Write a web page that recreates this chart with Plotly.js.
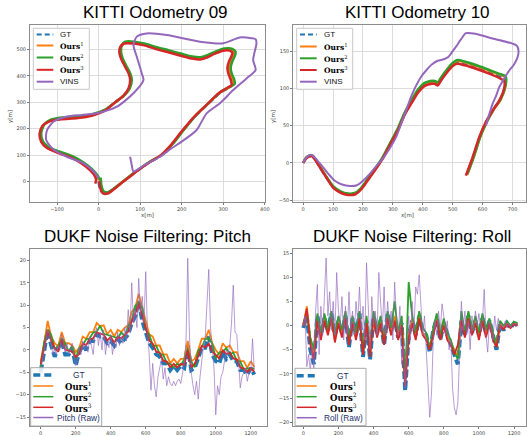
<!DOCTYPE html>
<html><head><meta charset="utf-8">
<script src="https://cdn.plot.ly/plotly-3.0.1.min.js"></script>
<style>html,body{margin:0;padding:0;background:#fff}#chart{width:527px;height:436px}</style>
</head><body><div id="chart"></div>
<script>
// ---------- KITTI 09 trajectories ----------
const gt09x=[0,2,6,14,22,50,85,121,152,177,202,232,262,292,313,323,321,316,314,318,324,326,319,302,281,262,245,225,200,170,140,110,85,63,53,51,55,63,74,78,73,61,41,15,-15,-50,-89,-117,-134,-141,-137,-124,-99,-64,-39,-18,-5,-1];
const gt09y=[0,-20,-36,-44,-43,-11,31,71,100,141,191,246,291,335,354,367,386,410,431,455,475,488,497,498,486,472,465,468,478,491,503,518,525,525,510,490,465,440,410,385,352,326,301,270,252,242,238,230,212,181,151,129,112,92,70,44,20,3];
const o1_09x=[4,6,11,22,51,85,121,152,177,202,232,262,292,313,325,323,317,315,319,325,327,320,302,281,262,245,225,200,170,140,110,86,63,54,52,56,64,74,78,74,61,41,15,-15,-50,-89,-116,-133,-140,-136,-123,-98,-63,-38,-17,-4,1];
const o1_09y=[12,-18,-38,-42,-10,32,72,101,141,191,248,293,337,355,368,386,410,431,455,475,489,499,500,489,475,467,470,480,493,505,519,526,526,512,491,466,440,410,385,352,326,301,270,253,243,239,231,213,181,151,130,113,93,70,44,20,6];
const o2_09x=[5,7,12,22,52,86,122,153,179,204,234,264,294,316,328,326,320,318,322,328,330,322,303,282,262,245,225,200,170,140,110,86,64,56,54,58,66,76,80,75,62,42,16,-15,-50,-88,-115,-131,-138,-134,-121,-97,-62,-36,-15,-2,3];
const o2_09y=[15,-15,-36,-40,-8,34,74,102,143,193,250,296,340,358,370,388,410,432,455,475,490,502,503,492,478,470,473,483,496,508,522,529,529,515,492,466,440,410,385,352,326,302,272,255,246,242,234,215,182,152,132,115,95,72,46,22,8];
const o3_09x=[2,4,10,22,50,84,120,150,175,200,230,260,290,310,320,318,312,310,314,320,322,315,300,280,262,245,225,200,170,140,110,85,62,52,50,54,62,72,76,72,60,40,15,-15,-50,-90,-118,-135,-142,-138,-125,-100,-65,-40,-20,-8,-6,-8];
const o3_09y=[2,-25,-44,-45,-12,30,70,100,140,190,245,290,335,355,365,385,410,430,455,475,487,495,495,484,470,462,465,475,488,500,515,522,522,508,490,465,440,410,385,352,325,300,268,250,240,236,228,210,180,150,128,110,90,68,42,18,5,-8];
const vins09x=[76,80,84,110,148,175,200,236,260,292,324,356,378,372,380,378,368,340,300,244,164,116,92,84,92,104,108,84,44,-4,-40,-76,-108,-124,-126,-108,-76,-36,-12,0];
const vins09y=[94,62,38,62,94,125,151,195,258,296,346,390,422,460,523,538,542,545,523,529,554,560,548,516,472,409,384,334,283,258,252,246,227,195,157,120,94,69,38,13];

// ---------- KITTI 10 trajectories ----------
const gt10x=[0,10,22,30,42,56,75,100,125,150,175,195,215,240,265,290,315,340,365,385,405,425,440,450,460,480,500,515,540,580,620,660,674,674,658,634,612,590,568,546];
const gt10y=[0,6,9,9,3,-6,-18,-32,-39,-42,-41,-34,-23,-9,6,25,43,66,84,97,105,108,108,106,112,123,132,135,133,128,122,116,113,102,85,71,55,35,8,-16];
const o1_10x=[0,10,22,30,42,56,75,100,125,150,175,195,215,240,265,290,315,340,365,385,405,425,440,450,460,480,500,515,540,580,620,660,676,676,660,636,614,592,570,548];
const o1_10y=[0,7,10,10,4,-5,-17,-32,-39,-42,-41,-34,-23,-9,6,25,44,67,85,98,106,109,109,107,113,124,133,137,135,130,124,118,115,103,85,71,55,35,8,-16];
const o2_10x=[0,10,22,30,42,56,75,100,125,150,175,195,215,240,265,290,315,340,365,385,405,425,440,450,460,480,500,515,540,580,620,660,677,677,661,637,615,593,571,549];
const o2_10y=[0,7,10,10,4,-5,-17,-31,-38,-41,-40,-33,-22,-8,7,26,45,68,86,99,107,110,110,108,114,125,134,138,136,131,125,119,116,104,86,72,56,36,9,-15];
const o3_10x=[0,10,22,30,42,56,75,100,125,150,175,195,215,240,265,290,315,340,365,385,405,425,440,450,460,480,500,515,540,580,620,660,672,672,656,633,611,589,567,544];
const o3_10y=[0,6,9,9,3,-6,-18,-33,-40,-43,-42,-35,-24,-10,5,24,42,65,82,95,103,106,106,104,110,121,130,133,131,126,120,113,110,100,84,70,55,35,8,-17];
const vins10x=[0,10,25,35,50,67,85,106,130,156,180,200,222,245,267,290,311,330,344,360,378,395,411,430,450,470,485,500,511,528,544,578,633,700,715,720,717,705,689,670,656,645,633,622,611];
const vins10y=[0,7,11,9,2,-6,-15,-24,-29,-31,-30,-24,-15,-4,6,20,35,55,70,88,104,116,124,132,137,139,142,150,156,166,174,173,167,160,157,150,142,132,124,112,102,90,79,65,50];

// ---------- DUKF noise filtering ----------
const t20=[0,20,40,60,80,100,120,140,160,180,200,220,240,260,280,300,320,340,360,380,400,420,440,460,480,500,520,540,560,580,600,620,640,660,680,700,720,740,760,780,800,820,840,860,880,900,920,940,960,980,1000,1020,1040,1060,1080,1100,1120,1140,1160,1180,1200,1220];
const t10=[0,10,20,30,40,50,60,70,80,90,100,110,120,130,140,150,160,170,180,190,200,210,220,230,240,250,260,270,280,290,300,310,320,330,340,350,360,370,380,390,400,410,420,430,440,450,460,470,480,490,500,510,520,530,540,550,560,570,580,590,600,610,620,630,640,650,660,670,680,690,700,710,720,730,740,750,760,770,780,790,800,810,820,830,840,850,860,870,880,890,900,910,920,930,940,950,960,970,980,990,1000,1010,1020,1030,1040,1050,1060,1070,1080,1090,1100,1110,1120,1130,1140,1150,1160,1170,1180,1190,1200,1210,1220];

const pitchGT=[-5,0.5,4.5,1,-1.5,0.5,2,-1,-1,0.5,-3.5,-0.5,1,0,2,2,3.5,3,3,1.5,2,1,2.5,1.5,2.5,3.5,6,7.5,11,6.5,4,1.5,0.5,-1,-1.5,-3,-3,-4.5,-3.5,-4.5,-3.5,-4,1,-4.5,-4,-2,0.5,0.5,3,-1,-2.5,-3,-0.5,-2,-1,-2.5,-2.5,-4.5,-4.5,-5.5,-4,-5.5];
const pitchOurs1=[-2.5,1.5,6.5,3,1.5,0.8,4,1.5,1.5,1,-0.5,0.5,3,2.5,4,4,6,5.3,5.5,3.5,4.5,3,4.5,4,5,5.5,8.5,9.5,12.5,9.5,6.5,3.5,3,1,1,-1,-1,-3,-2,-3,-2,-2,2,-2.5,-2,0,2.5,2.5,4.5,1.5,0,-1,1.5,0.5,1,-0.5,-0.5,-2.5,-2.5,-4,-2.5,-3.8];
const pitchOurs2=[-3.8,1.8,4.6,3.4,0.2,0.9,2.6,1.4,-0.4,0.9,-1.9,0.4,1.1,2.4,2.6,3.9,4.1,5.4,3.6,3.4,3.1,2.9,2.6,3.9,3.1,5.4,6.6,9.9,10.6,9.4,4.6,3.4,1.1,0.9,-0.9,-1.1,-2.9,-3.1,-3.9,-3.1,-3.4,-2.1,0.1,-2.6,-3.9,-0.1,0.6,2.4,2.6,1.4,-1.9,-0.6,-0.4,0.4,-0.9,-0.6,-2.4,-2.6,-4.4,-4.1,-4.4,-4.1];
const pitchOurs3=[-3.2,0.6,4.4,2.1,0.4,-0.4,2.4,0.1,-0.1,-0.4,-1.6,-0.9,1.4,1.1,2.4,2.6,3.9,3.6,3.4,2.1,2.9,1.6,2.9,2.6,3.4,4.1,6.4,8.1,10.4,7.6,4.9,2.1,1.4,-0.4,-0.6,-2.4,-2.6,-3.9,-3.1,-3.9,-3.1,-3.4,-0.1,-3.9,-3.1,-1.4,0.9,0.6,1.4,-0.4,-1.1,-1.9,-0.1,-0.9,-0.6,-1.9,-2.1,-3.9,-4.1,-4.9,-4.1,-4.9];
const pitchRaw=[-4.5,-2,0.5,2,4.5,3.5,1,-1,0.5,-1,1,0,3.5,1,-0.5,1.5,-1,0,1.5,-1.5,-3.5,-2,0.5,-1,2,0,1.5,-0.5,3,1,-1,3.5,5,1,4,0,4.5,-1,2,0.5,3.5,-1,2,0.5,4,1,3,1.5,5,2,9,4,15,6,9,5,16,8,12,6,17.5,4,-1,-9,-3,-8,-10.5,-6,-4,-2,-6.5,-4,-8,-6,-7.5,-8,-7,-8,-7,-6.5,-7.5,-5,-3,2,20.5,3,-5,-8,-10,-7,-11,-6,-2,1,3,10,18,5,0,-4,-14.5,-8,-10,-6,-5,-2,0,-1,1,6,14.5,4,3.5,-2,-8.5,-6,-5,-4,-7,-5,-5,2.5,-4.5];

const rollGT=[-0.5,2,-5,-8,2,-2,1.5,-1,2.5,-2,1,-1.5,2,-4.5,1.5,-2,2.5,-6.5,1,-7,2,-1.5,1,-4,2.5,-1,1.5,-2.5,0.5,-13.5,-2,1,-2,2,-1,-2,-5.5,-1,1.5,-3,0.5,-2,-4,-6,-8,1,-2,2,-1.5,1,-2,1.5,-1.5,1,-2.5,-5,0.5,-1,0.5,-0.5,0.5,0];
const rollOurs1=[0,4,-3,-6,1.5,-2.5,2,-1.5,2,-3,1.5,-2,2.5,-3.5,1,-2.5,2,-5,1.5,-5.5,2.5,-2,1.5,-3,2,-1.5,2,-2,1,-11,-2,1.5,-2.5,2.5,-1.5,-2.5,-4.5,-1.5,2,-2.5,1,-2.5,-3.5,-5,-6.5,1.5,-2,2.5,-1.5,1.5,-2.5,2,-2,1,-2,-4,0.5,-0.5,0.5,-0.5,0.5,0.3];
const rollOurs2=[0.5,2.5,-2.5,-5,2.5,-1.5,2.5,-1,3,-2,2,-1,3,-3,2,-1.5,3,-5.5,2,-6,3,-1,2,-3.5,3,-0.5,5,-1.5,2,-12,9,2,-1.5,3,-0.5,-1.5,-5,-0.5,2.5,-2,1.5,-1.5,-3,-5.5,-7,3,-1.5,3,-1,2,-1.5,2.5,-1,1.5,-1.5,-4.5,1,0,0.8,0,0.8,0.5];
const rollOurs3=[0,3.5,-4,-7,1,-3,1,-2,1.5,-3.5,0.5,-2.5,1.5,-4,0.5,-3,1.5,-6,0.5,-6.5,1.5,-2.5,0.5,-4,1.5,-2,1,-3,0,-12.5,-2.5,0.5,-3,1.5,-2,-3,-5,-2,1,-3,0,-3,-4,-6,-4,1,-2.5,1.5,-2,0.5,-3,1,-2.5,0.5,-3,-4.5,0,-0.8,0.2,-0.5,0.3,0];
const rollRaw=[0,2,-8.5,-6,-9.5,-4,-9,3,8.5,-6,4,-2,6,14,2,7,-1,5,-2,11,3,0,6,-3,4,-2,7,-1,3,-2,5,1,8,-1,4,-3,13,2,-5,6,0,3,-2,11,4,-1,8,-2,5,0,3,-3,9,2,-2,4,-8,-4,-13,-5,2,-3,5,-1,8,6.5,10.5,4,-2,2,-4,-12,-19,-14,-3,1,-2,3,-1,4.5,2,-2,1,-5,-3,-13,-17,-18.5,-16,-6,5,-1,3,-2,1,-5,2,-1,3,0,2.5,-1,1,7.5,-2,-5.5,1,-1,-3,2,-1,1.5,-1,0.5,-0.5,1,-0.5,0.5,-0.5,0.5,0,0.5,0];

// ---------- tick values ----------
const xt09=[-100,0,100,200,300,400], yt09=[0,100,200,300,400,500];
const xt10=[0,100,200,300,400,500,600,700], yt10=[-50,0,50,100,150];
const xtT=[0,200,400,600,800,1000,1200];
const ytPitch=[-15,-10,-5,0,5,10,15,20], ytRoll=[-20,-15,-10,-5,0,5,10,15];

// ---------- labels ----------
const titles=['KITTI Odometry 09','KITTI Odometry 10','DUKF Noise Filtering: Pitch','DUKF Noise Filtering: Roll'];
const trajNames=['GT','Ours1','Ours2','Ours3','VINS'];

const W=527,H=436;
const px=x=>x/W, py=y=>1-y/H;
const C={gt:'#1f77b4',o1:'#ff7f0e',o2:'#2ca02c',o3:'#d62728',v:'#9467bd'};

function tr(x,y,xa,ya,color,width,dash,opacity,shape){
  return {type:'scatter',mode:'lines',x:x,y:y,xaxis:xa,yaxis:ya,
    line:{color:color,width:width,dash:dash||'solid',shape:shape||'linear',smoothing:0.7},
    opacity:opacity==null?1:opacity,showlegend:false,hoverinfo:'skip'};
}
const data=[
  tr(gt09x,gt09y,'x','y',C.gt,2.5,'6px,3px',1,'spline'),
  tr(o1_09x,o1_09y,'x','y',C.o1,2.5,null,1,'spline'),
  tr(o2_09x,o2_09y,'x','y',C.o2,2.5,null,1,'spline'),
  tr(o3_09x,o3_09y,'x','y',C.o3,2.5,null,1,'spline'),
  tr(vins09x,vins09y,'x','y',C.v,2,null,1,'spline'),
  tr(gt10x,gt10y,'x2','y2',C.gt,2.5,'6px,3px',1,'spline'),
  tr(o1_10x,o1_10y,'x2','y2',C.o1,2.5,null,1,'spline'),
  tr(o2_10x,o2_10y,'x2','y2',C.o2,2.5,null,1,'spline'),
  tr(o3_10x,o3_10y,'x2','y2',C.o3,2.5,null,1,'spline'),
  tr(vins10x,vins10y,'x2','y2',C.v,2,null,1,'spline'),
  tr(t20,pitchGT,'x3','y3',C.gt,4,'8px,3px'),
  tr(t20,pitchOurs1,'x3','y3',C.o1,1.8),
  tr(t20,pitchOurs2,'x3','y3',C.o2,1.8),
  tr(t20,pitchOurs3,'x3','y3',C.o3,1.8),
  tr(t10,pitchRaw,'x3','y3',C.v,1,null,0.65),
  tr(t20,rollGT,'x4','y4',C.gt,4,'8px,3px'),
  tr(t20,rollOurs1,'x4','y4',C.o1,1.8),
  tr(t20,rollOurs2,'x4','y4',C.o2,1.8),
  tr(t20,rollOurs3,'x4','y4',C.o3,1.8),
  tr(t10,rollRaw,'x4','y4',C.v,1,null,0.65)
];

const common={showline:true,mirror:true,linecolor:'#8c8c8c',linewidth:1,ticks:'outside',ticklen:2,tickwidth:1,
  tickcolor:'#777',tickfont:{family:'DejaVu Sans',size:5,color:'#444'},zeroline:false,fixedrange:true,tickmode:'array'};
const grid={showgrid:true,gridcolor:'#dcdcdc',gridwidth:1};
const nogrid={showgrid:false};

const shapes=[], annotations=[];
function txt(x,y,text,size,family,opts){
  annotations.push(Object.assign({xref:'paper',yref:'paper',x:px(x),y:py(y),text:text,showarrow:false,
    xanchor:'center',yanchor:'middle',font:{size:size,family:family,color:'#000'}},opts||{}));
}
// titles
txt(155,12.5,titles[0],17,'Liberation Sans');
txt(417,12.5,titles[1],17,'Liberation Sans');
txt(147,236.7,titles[2],17,'Liberation Sans');
txt(412,236.7,titles[3],17,'Liberation Sans');
// axis labels
const axf={size:5.5,family:'DejaVu Sans',color:'#444'};
txt(147,214.5,'x[m]',5.5,'DejaVu Sans',{font:axf});
txt(10,117,'y[m]',5.5,'DejaVu Sans',{textangle:-90,font:axf});
txt(407,214.5,'x[m]',5.5,'DejaVu Sans',{font:axf});
txt(273,117,'y[m]',5.5,'DejaVu Sans',{textangle:-90,font:axf});

function legend(box,rows,lx0,lx1,tx,anchor,items,sansSize,serifSize,sansColor,borderColor){
  shapes.push({type:'rect',xref:'paper',yref:'paper',x0:px(box[0]),x1:px(box[1]),y0:py(box[3]),y1:py(box[2]),
    fillcolor:'rgba(255,255,255,0.85)',line:{color:borderColor,width:1},layer:'above'});
  items.forEach((it,i)=>{
    shapes.push({type:'line',xref:'paper',yref:'paper',x0:px(lx0),x1:px(lx1),y0:py(rows[i]),y1:py(rows[i]),
      line:{color:it.c,width:it.w,dash:it.d||'solid'},layer:'above'});
    const serif=it.serif;
    txt(tx,rows[i]+(serif?0.3:0),it.t,serif?serifSize:sansSize,serif?'DejaVu Serif':'Liberation Sans',
      {xanchor:anchor,font:{size:serif?serifSize:sansSize,family:serif?'DejaVu Serif':'Liberation Sans',color:serif?'#000':sansColor}});
  });
}
const oursLab=n=>'<b>Ours</b><sup>'+n+'</sup>';
const trajItems=[
  {c:C.gt,w:2,d:'5px,3px',t:trajNames[0]},
  {c:C.o1,w:2,t:oursLab(1),serif:true},
  {c:C.o2,w:2,t:oursLab(2),serif:true},
  {c:C.o3,w:2,t:oursLab(3),serif:true},
  {c:C.v,w:2,t:trajNames[4]}
];
legend([33.3,89.3,28.3,89.3],[34.5,45.5,57.5,69.8,81.7],36.7,53.3,58.3,'left',trajItems,8,7.5,'#111','#c8c8c8');
legend([296.7,352.7,28.3,89.3],[34.5,46.5,58.3,70,81.7],300,316.7,321.7,'left',trajItems,8,7.5,'#111','#c8c8c8');
const noiseItems=lab=>[
  {c:C.gt,w:3.5,d:'7px,4px',t:'GT'},
  {c:C.o1,w:1.5,t:oursLab(1),serif:true},
  {c:C.o2,w:1.5,t:oursLab(2),serif:true},
  {c:C.o3,w:1.5,t:oursLab(3),serif:true},
  {c:C.v,w:1.5,t:lab}
];
legend([30.7,101.7,367.7,426],[375,386,396.7,407.3,417.5],33.3,53.3,78.5,'center',noiseItems('Pitch (Raw)'),8.3,8.5,'#23306a','#a8a8a8');
legend([295,366,368.3,425.7],[375.7,386,396.7,407.3,417.7],296.7,316.7,343,'center',noiseItems('Roll (Raw)'),8.3,8.5,'#23306a','#a8a8a8');

const layout={
  width:W,height:H,margin:{l:0,r:0,t:0,b:0},paper_bgcolor:'#fff',plot_bgcolor:'#fff',showlegend:false,
  xaxis:Object.assign({},common,grid,{domain:[px(30),px(265)],range:[-165,400.5],tickvals:xt09,anchor:'y'}),
  yaxis:Object.assign({},common,grid,{domain:[py(201.7),py(25)],range:[-76,592],tickvals:yt09,anchor:'x'}),
  xaxis2:Object.assign({},common,grid,{domain:[px(293.3),px(526)],range:[-33,745],tickvals:xt10,anchor:'y2'}),
  yaxis2:Object.assign({},common,grid,{domain:[py(201.7),py(25)],range:[-52,185],tickvals:yt10,anchor:'x2'}),
  xaxis3:Object.assign({},common,nogrid,{domain:[px(30),px(266.7)],range:[-61,1291],tickvals:xtT,anchor:'y3'}),
  yaxis3:Object.assign({},common,nogrid,{domain:[py(426),py(249.3)],range:[-17,22.5],tickvals:ytPitch,anchor:'x3'}),
  xaxis4:Object.assign({},common,nogrid,{domain:[px(293.3),px(526)],range:[-57,1268],tickvals:xtT,anchor:'y4'}),
  yaxis4:Object.assign({},common,nogrid,{domain:[py(426),py(249.3)],range:[-20.8,15.8],tickvals:ytRoll,anchor:'x4'}),
  shapes:shapes,annotations:annotations
};
Plotly.newPlot('chart',data,layout,{staticPlot:true,displayModeBar:false});
</script></body></html>
